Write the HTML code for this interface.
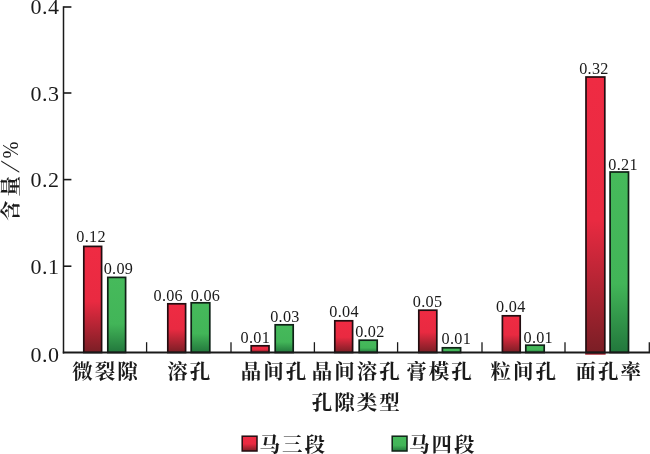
<!DOCTYPE html>
<html lang="zh-CN">
<head>
<meta charset="utf-8">
<title>孔隙类型</title>
<style>
html,body{margin:0;padding:0;background:#fff;}
body{width:650px;height:454px;overflow:hidden;position:relative;}
svg{position:absolute;left:0;top:0;display:block;}
.num{font-family:"Liberation Serif","Noto Serif CJK SC",serif;fill:#1a1a1a;}
.cjk{font-family:"Liberation Serif","Noto Serif CJK SC",serif;font-weight:700;fill:#1a1a1a;}
</style>
</head>
<body>
<svg width="650" height="454" viewBox="0 0 650 454">
<defs>
<linearGradient id="gr" x1="0" y1="0" x2="0" y2="1">
<stop offset="0" stop-color="#ef2b43"/>
<stop offset="0.52" stop-color="#e92a41"/>
<stop offset="1" stop-color="#7a1e25"/>
</linearGradient>
<linearGradient id="gg" x1="0" y1="0" x2="0" y2="1">
<stop offset="0" stop-color="#46ba5b"/>
<stop offset="0.62" stop-color="#42b558"/>
<stop offset="1" stop-color="#22773c"/>
</linearGradient>
</defs>
<rect x="0" y="0" width="650" height="454" fill="#ffffff"/>
<rect x="83.8" y="246.4" width="17.8" height="106.1" fill="url(#gr)" stroke="#220d10" stroke-width="1.7"/>
<rect x="107.8" y="277.4" width="17.8" height="75.1" fill="url(#gg)" stroke="#0f2116" stroke-width="1.7"/>
<rect x="167.8" y="303.8" width="17.8" height="48.7" fill="url(#gr)" stroke="#220d10" stroke-width="1.7"/>
<rect x="191.2" y="302.8" width="18.6" height="49.7" fill="url(#gg)" stroke="#0f2116" stroke-width="1.7"/>
<rect x="251.2" y="345.8" width="17.8" height="6.7" fill="url(#gr)" stroke="#220d10" stroke-width="1.7"/>
<rect x="275.2" y="324.8" width="18.0" height="27.7" fill="url(#gg)" stroke="#0f2116" stroke-width="1.7"/>
<rect x="334.8" y="320.8" width="17.8" height="31.7" fill="url(#gr)" stroke="#220d10" stroke-width="1.7"/>
<rect x="359.2" y="340.2" width="18.0" height="12.3" fill="url(#gg)" stroke="#0f2116" stroke-width="1.7"/>
<rect x="418.8" y="310.2" width="18.0" height="42.3" fill="url(#gr)" stroke="#220d10" stroke-width="1.7"/>
<rect x="442.4" y="347.8" width="18.2" height="4.7" fill="url(#gg)" stroke="#0f2116" stroke-width="1.7"/>
<rect x="502.4" y="315.8" width="17.8" height="36.7" fill="url(#gr)" stroke="#220d10" stroke-width="1.7"/>
<rect x="525.8" y="345.2" width="18.4" height="7.3" fill="url(#gg)" stroke="#0f2116" stroke-width="1.7"/>
<rect x="585.2" y="352.5" width="20.4" height="2.2" fill="#a81e2c"/>
<rect x="586.0" y="77.0" width="18.8" height="275.5" fill="url(#gr)" stroke="#220d10" stroke-width="1.7"/>
<rect x="610.1" y="172.0" width="18.4" height="180.5" fill="url(#gg)" stroke="#0f2116" stroke-width="1.7"/>
<g stroke="#1a1a1a" stroke-width="1.6" fill="none" stroke-linecap="butt">
<path d="M63.5 6.2V353.4" stroke-width="1.5"/>
<path d="M62.8 352.5H650" stroke-width="2.1"/>
<path d="M63.6 7.0H71.4"/>
<path d="M63.6 93.0H71.4"/>
<path d="M63.6 179.6H71.4"/>
<path d="M63.6 266.2H71.4"/>
</g>
<g stroke="#1a1a1a" stroke-width="1.3" fill="none">
<path d="M146.6 352.5V342.2"/>
<path d="M231.0 352.5V342.2"/>
<path d="M314.4 352.5V342.2"/>
<path d="M397.6 352.5V342.2"/>
<path d="M482.0 352.5V342.2"/>
<path d="M565.0 352.5V342.2"/>
<path d="M649.3 352.5V342.2"/>
</g>
<text class="num" x="59.5" y="14.3" font-size="22" text-anchor="end" letter-spacing="0.5">0.4</text>
<text class="num" x="59.5" y="101.0" font-size="22" text-anchor="end" letter-spacing="0.5">0.3</text>
<text class="num" x="59.5" y="187.1" font-size="22" text-anchor="end" letter-spacing="0.5">0.2</text>
<text class="num" x="59.5" y="273.8" font-size="22" text-anchor="end" letter-spacing="0.5">0.1</text>
<text class="num" x="59.5" y="362.0" font-size="22" text-anchor="end" letter-spacing="0.5">0.0</text>
<text class="num" x="91.10" y="242.0" font-size="16.2" text-anchor="middle" letter-spacing="0.3">0.12</text>
<text class="num" x="118.45" y="274.3" font-size="16.2" text-anchor="middle" letter-spacing="0.3">0.09</text>
<text class="num" x="168.25" y="300.9" font-size="16.2" text-anchor="middle" letter-spacing="0.3">0.06</text>
<text class="num" x="205.45" y="300.9" font-size="16.2" text-anchor="middle" letter-spacing="0.3">0.06</text>
<text class="num" x="255.30" y="343.3" font-size="16.2" text-anchor="middle" letter-spacing="0.3">0.01</text>
<text class="num" x="284.95" y="321.9" font-size="16.2" text-anchor="middle" letter-spacing="0.3">0.03</text>
<text class="num" x="344.05" y="317.0" font-size="16.2" text-anchor="middle" letter-spacing="0.3">0.04</text>
<text class="num" x="369.90" y="336.8" font-size="16.2" text-anchor="middle" letter-spacing="0.3">0.02</text>
<text class="num" x="427.55" y="306.9" font-size="16.2" text-anchor="middle" letter-spacing="0.3">0.05</text>
<text class="num" x="456.35" y="344.4" font-size="16.2" text-anchor="middle" letter-spacing="0.3">0.01</text>
<text class="num" x="510.80" y="311.5" font-size="16.2" text-anchor="middle" letter-spacing="0.3">0.04</text>
<text class="num" x="538.25" y="342.5" font-size="16.2" text-anchor="middle" letter-spacing="0.3">0.01</text>
<text class="num" x="593.95" y="73.6" font-size="16.2" text-anchor="middle" letter-spacing="0.3">0.32</text>
<text class="num" x="623.05" y="169.7" font-size="16.2" text-anchor="middle" letter-spacing="0.3">0.21</text>
<text class="cjk" x="106.05" y="379.2" font-size="20.5" text-anchor="middle" letter-spacing="2.0">微裂隙</text>
<text class="cjk" x="189.75" y="379.2" font-size="20.5" text-anchor="middle" letter-spacing="2.0">溶孔</text>
<text class="cjk" x="274.45" y="379.2" font-size="20.5" text-anchor="middle" letter-spacing="2.0">晶间孔</text>
<text class="cjk" x="356.75" y="379.2" font-size="20.5" text-anchor="middle" letter-spacing="2.0">晶间溶孔</text>
<text class="cjk" x="440.05" y="379.2" font-size="20.5" text-anchor="middle" letter-spacing="2.0">膏模孔</text>
<text class="cjk" x="524.25" y="379.2" font-size="20.5" text-anchor="middle" letter-spacing="2.0">粒间孔</text>
<text class="cjk" x="609.30" y="379.2" font-size="20.5" text-anchor="middle" letter-spacing="2.0">面孔率</text>
<text class="cjk" x="356.75" y="410.4" font-size="20.5" text-anchor="middle" letter-spacing="2.0">孔隙类型</text>
<g transform="translate(0 220) rotate(-90)">
<text class="cjk" x="-0.9" y="17.5" font-size="20.5" letter-spacing="3.85">含量</text>
<text class="num" transform="translate(47.3 18.9) skewX(-15)" x="0" y="0" font-size="27">/</text>
<text class="num" transform="translate(61.6 17.5) scale(0.9 1)" x="0" y="0" font-size="22.5">%</text>
</g>
<rect x="242.2" y="436.2" width="14.8" height="14.8" fill="url(#gr)" stroke="#220d10" stroke-width="1.5"/>
<text class="cjk" x="293.35" y="451.8" font-size="20.5" text-anchor="middle" letter-spacing="2.0">马三段</text>
<rect x="392.2" y="436.2" width="14.8" height="14.8" fill="url(#gg)" stroke="#0f2116" stroke-width="1.5"/>
<text class="cjk" x="442.75" y="451.8" font-size="20.5" text-anchor="middle" letter-spacing="2.0">马四段</text>
</svg>
</body>
</html>
